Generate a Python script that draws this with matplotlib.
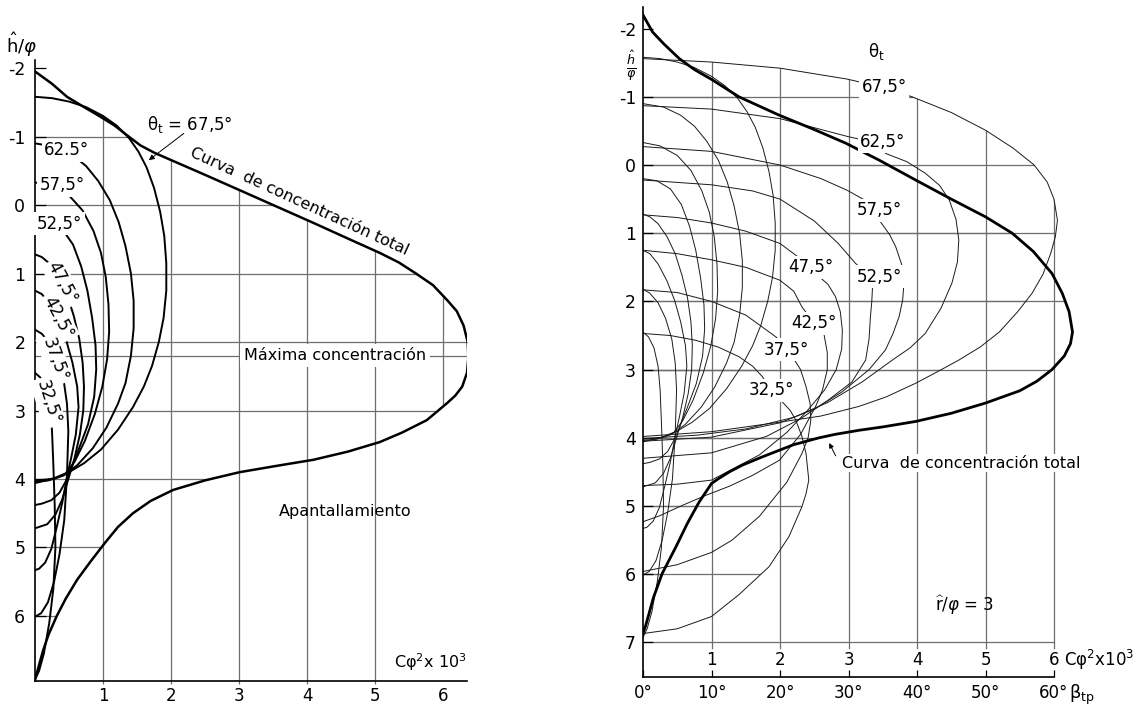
import numpy as np
import matplotlib.pyplot as plt
from matplotlib.patches import Polygon
from matplotlib.collections import LineCollection

plt.rcParams['font.family'] = ['DejaVu Sans']
plt.rcParams['mathtext.fontset'] = 'dejavusans'

# ---------- data (C x 10^3, h/phi) ----------
theta_labels = ['67,5°', '62.5°', '57,5°', '52,5°', '47,5°', '42,5°', '37,5°', '32,5°']

# total concentration curve, left chart
total_left = [(0, -1.95), (0.25, -1.77), (0.47, -1.58), (0.72, -1.43), (0.96, -1.29), (1.17, -1.16),
              (1.35, -1.02), (1.55, -0.87), (1.76, -0.76), (2.5, -0.44), (3.0, -0.22), (3.5, 0.0),
              (4.09, 0.26), (4.6, 0.49), (5.07, 0.7), (5.35, 0.84), (5.6, 1.0), (5.85, 1.17),
              (6.06, 1.39), (6.2, 1.55), (6.3, 1.76), (6.36, 2.0), (6.37, 2.22), (6.35, 2.45),
              (6.28, 2.65), (6.18, 2.78), (6.06, 2.89), (5.76, 3.14), (5.4, 3.32), (5.07, 3.46),
              (4.6, 3.6), (4.09, 3.72), (3.6, 3.8), (3.01, 3.9), (2.5, 4.02), (2.03, 4.16),
              (1.7, 4.32), (1.44, 4.5), (1.22, 4.7), (1.03, 4.93), (0.82, 5.2), (0.62, 5.47),
              (0.45, 5.75), (0.32, 6.0), (0.2, 6.27), (0.12, 6.5), (0.05, 6.75), (0, 6.93)]

# theta_t curves (C), same family on both charts
c675 = [(0, -1.58), (0.25, -1.56), (0.5, -1.51), (0.75, -1.43), (1.0, -1.3), (1.2, -1.16), (1.38, -0.98),
        (1.52, -0.78), (1.64, -0.55), (1.75, -0.25), (1.84, 0.1), (1.9, 0.45), (1.93, 0.85), (1.93, 1.25),
        (1.89, 1.65), (1.82, 2.0), (1.72, 2.35), (1.6, 2.65), (1.44, 2.95), (1.22, 3.28), (0.97, 3.57),
        (0.72, 3.77), (0.5, 3.9), (0.25, 4.0), (0, 4.06)]
c625 = [(0, -0.9), (0.3, -0.85), (0.55, -0.73), (0.75, -0.57), (0.93, -0.35), (1.1, -0.07), (1.23, 0.25),
        (1.33, 0.6), (1.41, 1.0), (1.45, 1.4), (1.45, 1.8), (1.41, 2.2), (1.33, 2.6), (1.22, 2.9),
        (1.05, 3.25), (0.85, 3.55), (0.62, 3.8), (0.42, 3.95), (0.2, 4.02), (0, 4.04)]
c575 = [(0, -0.33), (0.25, -0.28), (0.5, -0.14), (0.7, 0.08), (0.86, 0.38), (0.97, 0.7), (1.04, 1.05),
        (1.08, 1.45), (1.09, 1.85), (1.06, 2.25), (0.99, 2.65), (0.88, 3.05), (0.73, 3.45), (0.58, 3.75),
        (0.45, 3.92), (0.3, 3.99), (0.15, 4.01), (0, 4.02)]
c525 = [(0, 0.2), (0.2, 0.23), (0.4, 0.35), (0.56, 0.58), (0.68, 0.9), (0.77, 1.25), (0.84, 1.65),
        (0.89, 2.05), (0.9, 2.4), (0.87, 2.8), (0.78, 3.2), (0.66, 3.52), (0.55, 3.8), (0.46, 4.02),
        (0.36, 4.2), (0.24, 4.31), (0.1, 4.36), (0, 4.38)]
c475 = [(0, 0.72), (0.1, 0.76), (0.22, 0.86), (0.35, 1.05), (0.47, 1.3), (0.57, 1.62), (0.65, 1.95),
        (0.7, 2.3), (0.72, 2.65), (0.71, 3.0), (0.66, 3.35), (0.58, 3.7), (0.49, 4.0), (0.4, 4.3),
        (0.3, 4.52), (0.18, 4.66), (0, 4.72)]
c425 = [(0, 1.25), (0.1, 1.3), (0.22, 1.45), (0.35, 1.7), (0.46, 1.98), (0.55, 2.3), (0.62, 2.65),
        (0.64, 2.95), (0.6, 3.35), (0.53, 3.7), (0.47, 3.97), (0.4, 4.35), (0.32, 4.7), (0.24, 5.02),
        (0.15, 5.22), (0.06, 5.31), (0, 5.33)]
c375 = [(0, 1.82), (0.1, 1.88), (0.22, 2.02), (0.33, 2.25), (0.42, 2.55), (0.47, 2.9), (0.49, 3.3),
        (0.47, 3.95), (0.43, 4.6), (0.36, 5.1), (0.28, 5.5), (0.19, 5.8), (0.09, 5.96), (0, 6.01)]
c325 = [(0, 2.45), (0.08, 2.52), (0.16, 2.68), (0.22, 2.95), (0.25, 3.3), (0.27, 3.8), (0.29, 4.4),
        (0.3, 5.0), (0.27, 5.6), (0.21, 6.1), (0.13, 6.55), (0.06, 6.8), (0, 6.93)]
c_curves = [c675, c625, c575, c525, c475, c425, c375, c325]

# label spots on the left chart (C, h, rotation)
left_lbl = [(0.47, -0.8, 0), (0.4, -0.29, 0), (0.36, 0.27, 0), (0.4, 1.14, -62),
            (0.34, 1.64, -62), (0.29, 2.26, -70), (0.19, 2.88, -72)]

# total concentration curve, right chart
total_right = [(0, -2.2), (0.14, -1.95), (0.3, -1.78), (0.53, -1.56), (0.75, -1.4), (1.01, -1.25),
               (1.4, -1.0), (1.99, -0.73), (2.5, -0.52), (2.96, -0.32), (3.45, -0.07), (3.98, 0.22),
               (4.5, 0.5), (5.0, 0.76), (5.39, 1.0), (5.7, 1.27), (5.97, 1.59), (6.12, 1.88),
               (6.22, 2.15), (6.27, 2.45), (6.24, 2.62), (6.15, 2.8), (5.97, 3.0), (5.75, 3.17),
               (5.5, 3.31), (5.0, 3.49), (4.5, 3.64), (3.98, 3.76), (3.5, 3.84), (3.15, 3.89),
               (2.8, 3.95), (2.57, 4.0), (2.2, 4.1), (1.74, 4.28), (1.45, 4.4), (1.26, 4.5),
               (1.1, 4.6), (1.0, 4.67), (0.82, 4.94), (0.65, 5.25), (0.48, 5.6), (0.28, 5.99),
               (0.15, 6.35), (0.09, 6.57), (0.04, 6.75), (0, 6.87)]

# beta_tp curves, right chart
b675 = [(0, -1.56), (1.0, -1.51), (2.0, -1.42), (2.98, -1.26), (3.5, -1.14), (3.93, -1.0), (4.5, -0.77),
        (5.0, -0.51), (5.4, -0.25), (5.71, 0.0), (5.9, 0.25), (6.0, 0.5), (6.05, 0.81), (6.02, 1.05),
        (5.95, 1.3), (5.84, 1.6), (5.68, 1.88), (5.47, 2.15), (5.2, 2.45), (4.92, 2.67), (4.61, 2.86),
        (4.3, 3.03), (3.98, 3.2), (3.55, 3.4), (3.15, 3.54), (2.6, 3.68), (2.0, 3.77), (1.0, 3.91), (0, 3.98)]
b625 = [(0, -0.87), (1.0, -0.82), (2.0, -0.68), (2.98, -0.42), (3.5, -0.3), (3.54, -0.17), (3.85, -0.05),
        (4.12, 0.12), (4.33, 0.3), (4.47, 0.51), (4.57, 0.8), (4.61, 1.1), (4.59, 1.42), (4.51, 1.73),
        (4.35, 2.1), (4.12, 2.47), (3.9, 2.68), (3.64, 2.86), (3.2, 3.18), (2.7, 3.48), (2.2, 3.7),
        (1.5, 3.87), (0.8, 3.96), (0, 4.01)]
b575 = [(0, -0.27), (1.0, -0.2), (2.0, 0.0), (2.6, 0.2), (2.98, 0.37), (3.3, 0.55), (3.45, 0.81),
        (3.6, 1.02), (3.69, 1.2), (3.78, 1.47), (3.81, 1.73), (3.79, 1.98), (3.74, 2.22), (3.65, 2.47),
        (3.54, 2.71), (3.3, 3.0), (2.9, 3.33), (2.5, 3.58), (2.0, 3.78), (1.0, 3.99), (0, 4.05)]
b525 = [(0, 0.22), (1.0, 0.29), (1.6, 0.38), (2.0, 0.5), (2.5, 0.82), (2.85, 1.15), (3.1, 1.44),
        (3.3, 1.62), (3.35, 1.79), (3.34, 2.0), (3.32, 2.22), (3.3, 2.55), (3.25, 2.86), (3.05, 3.18),
        (2.7, 3.45), (2.3, 3.72), (1.8, 3.98), (1.0, 4.22), (0, 4.3)]
b475 = [(0, 0.73), (0.5, 0.77), (1.0, 0.85), (1.5, 0.97), (2.0, 1.15), (2.32, 1.39), (2.45, 1.5),
        (2.54, 1.61), (2.7, 1.75), (2.81, 1.93), (2.88, 2.15), (2.91, 2.42), (2.9, 2.7), (2.82, 3.0),
        (2.65, 3.3), (2.4, 3.6), (2.1, 3.92), (1.7, 4.25), (1.0, 4.62), (0.5, 4.68), (0, 4.7)]
b425 = [(0, 1.25), (0.5, 1.3), (1.0, 1.39), (1.5, 1.5), (2.0, 1.69), (2.2, 1.85), (2.32, 2.08),
        (2.5, 2.32), (2.64, 2.47), (2.69, 2.75), (2.69, 3.0), (2.62, 3.3), (2.52, 3.54), (2.3, 3.95),
        (1.99, 4.33), (1.6, 4.55), (1.26, 4.71), (0.9, 4.85), (0.53, 5.01), (0.25, 5.14), (0, 5.23)]
b375 = [(0, 1.83), (0.5, 1.87), (1.0, 2.0), (1.5, 2.2), (1.94, 2.52), (2.1, 2.71), (2.18, 2.81),
        (2.3, 3.0), (2.38, 3.25), (2.44, 3.5), (2.45, 3.74), (2.41, 4.0), (2.32, 4.23), (2.1, 4.65),
        (1.7, 5.15), (1.3, 5.5), (1.0, 5.68), (0.5, 5.86), (0, 5.96)]
b325 = [(0, 2.47), (0.4, 2.5), (0.77, 2.57), (1.1, 2.67), (1.4, 2.81), (1.6, 2.95), (1.74, 3.1),
        (1.87, 3.3), (2.03, 3.47), (2.15, 3.6), (2.23, 3.74), (2.32, 3.98), (2.38, 4.23), (2.42, 4.62),
        (2.38, 4.82), (2.32, 5.01), (2.13, 5.45), (1.84, 5.89), (1.4, 6.3), (1.0, 6.62), (0.5, 6.8), (0, 6.87)]
b_curves = [b675, b625, b575, b525, b475, b425, b375, b325]
right_lbl = [(3.52, -1.14), (3.5, -0.34), (3.45, 0.66), (3.45, 1.64),
             (2.45, 1.5), (2.5, 2.32), (2.1, 2.71), (1.87, 3.3)]

h_ticks_left = [-2, -1, 0, 1, 2, 3, 4, 5, 6]
h_ticks_right = [-2, -1, 0, 1, 2, 3, 4, 5, 6, 7]
c_ticks = [1, 2, 3, 4, 5, 6]
beta_ticks = ['0°', '10°', '20°', '30°', '40°', '50°', '60°']

GRID = '#6e6e6e'


def xy(pts):
    a = np.array(pts)
    return a[:, 0], a[:, 1]


def clip_poly(ax, pts):
    return Polygon(pts, closed=True, transform=ax.transData)


def white(pad=0.6):
    return dict(boxstyle='square,pad=%s' % pad, fc='white', ec='none')


fig = plt.figure(figsize=(11.48, 7.08), dpi=100)

# ================= left chart =================
ax = fig.add_axes([35 / 1148, 1 - 681 / 708, 432 / 1148, 621 / 708])
ax.set_xlim(0, 6.35)
ax.set_ylim(6.949, -2.117)
for s in ['top', 'right']:
    ax.spines[s].set_visible(False)
for s in ['left', 'bottom']:
    ax.spines[s].set_linewidth(1.2)

env = total_left + [(-0.5, 6.93), (-0.5, -1.95)]
hl = LineCollection([[(0, h), (7, h)] for h in [-1, 0, 1, 2, 3, 4, 5, 6]], colors=GRID, lw=0.9, zorder=1)
hl.set_clip_path(clip_poly(ax, env))
ax.add_collection(hl)

imax = int(np.argmax([p[0] for p in total_left]))
vpoly = total_left[:imax + 1] + [(6.35, 2.45), (6.28, 2.65), (6.06, 2.89), (5.95, 2.95),
                                  (5.95, 7.5), (-0.5, 7.5), (-0.5, -1.95)]
vl = LineCollection([[(c, -2.5), (c, 7.0)] for c in c_ticks[:-1]], colors=GRID, lw=0.9, zorder=1)
vl.set_clip_path(clip_poly(ax, vpoly))
ax.add_collection(vl)
v6 = LineCollection([[(6, -2.5), (6, 7.0)]], colors=GRID, lw=0.9, zorder=1)
v6.set_clip_path(clip_poly(ax, env))
ax.add_collection(v6)
ax.plot([0, 6.35], [2.2, 2.2], color=GRID, lw=0.9, zorder=1)

for cc in c_curves:
    ax.plot(*xy(cc), color='black', lw=1.4, solid_joinstyle='round', zorder=3)
ax.plot(*xy(total_left), color='black', lw=1.8, solid_joinstyle='round', zorder=4)

for (c, h, rot), lab in zip(left_lbl, theta_labels[1:]):
    ax.text(c, h, lab, fontsize=12, rotation=rot, ha='center', va='center',
            bbox=white(0.15), zorder=5)

ax.text(2.28, -1.17, 'θ$_\\mathrm{t}$ = 67,5°', fontsize=12, ha='center', va='center', zorder=5)
ax.annotate('', xy=(1.64, -0.63), xytext=(2.22, -1.07),
            arrowprops=dict(arrowstyle='-|>', lw=0.7, color='black', mutation_scale=8), zorder=5)
ax.text(3.88, -0.05, 'Curva  de concentración total', fontsize=11.5, rotation=-24.6,
        ha='center', va='center', rotation_mode='anchor', zorder=5)
ax.text(4.41, 2.2, 'Máxima concentración', fontsize=11.5, ha='center', va='center',
        bbox=white(0.25), zorder=5)
ax.text(4.56, 4.48, 'Apantallamiento', fontsize=11.5, ha='center', va='center', zorder=5)
ax.text(6.35, 6.67, 'Cφ$^2$x 10$^3$', fontsize=11.5, ha='right', va='center', zorder=5)

ax.set_yticks(h_ticks_left)
ax.set_yticklabels([str(h) for h in h_ticks_left])
ax.set_xticks(c_ticks)
ax.set_xticklabels([str(c) for c in c_ticks])
ax.tick_params(axis='y', direction='in', length=8, width=0.9, pad=7, labelsize=12.5)
ax.tick_params(axis='x', length=0, pad=4, labelsize=12)
fig.text(22 / 1148, 1 - 45 / 708, '$\\hat{\\mathrm{h}}/\\varphi$', fontsize=13, ha='center', va='center')

# ================= right chart =================
ax2 = fig.add_axes([643 / 1148, 1 - 677 / 708, 435 / 1148, 670 / 708])
ax2.set_xlim(0, 6.35)
ax2.set_ylim(7.507, -2.317)
for s in ['top', 'right']:
    ax2.spines[s].set_visible(False)
for s in ['left', 'bottom']:
    ax2.spines[s].set_linewidth(1.2)
ax2.spines['bottom'].set_bounds(0, 6)

hsegs = [[(0, h), (7, h)] for h in [-1, 0, 1, 2, 3, 4, 5, 6]]
for loop in [b675, total_right, b325]:
    lc = LineCollection(hsegs, colors=GRID, lw=0.9, zorder=1)
    lc.set_clip_path(clip_poly(ax2, loop + [(-0.5, loop[-1][1]), (-0.5, loop[0][1])]))
    ax2.add_collection(lc)
ax2.plot([0, 6], [7, 7], color=GRID, lw=0.9, zorder=1)
jmax = int(np.argmax([p[0] for p in b675]))
vpoly2 = b675[:jmax + 1] + [(6.1, 7.1), (-0.5, 7.1), (-0.5, -1.56)]
vl2 = LineCollection([[(c, -2.5), (c, 7.5)] for c in c_ticks], colors=GRID, lw=0.9, zorder=1)
vl2.set_clip_path(clip_poly(ax2, vpoly2))
ax2.add_collection(vl2)

for cc in c_curves:
    ax2.plot(*xy(cc), color='#1a1a1a', lw=0.7, zorder=2)
for bc in b_curves:
    ax2.plot(*xy(bc), color='#1a1a1a', lw=0.7, zorder=2)
ax2.plot(*xy(total_right), color='black', lw=2.0, solid_joinstyle='round', zorder=4)

for (c, h), lab in zip(right_lbl, theta_labels):
    ax2.text(c, h, lab.replace('.', ','), fontsize=12, ha='center', va='center',
             bbox=white(0.15), zorder=5)
ax2.text(3.4, -1.66, 'θ$_\\mathrm{t}$', fontsize=12, ha='center', va='center')
ax2.text(-0.18, -1.45, '$\\frac{\\hat{h}}{\\varphi}$', fontsize=13, ha='center', va='center', clip_on=False)
ax2.text(2.9, 4.37, 'Curva  de concentración total', fontsize=11.5, ha='left', va='center',
         bbox=white(0.1), zorder=5)
ax2.annotate('', xy=(2.7, 4.04), xytext=(2.83, 4.3),
             arrowprops=dict(arrowstyle='-|>', lw=0.7, color='black', mutation_scale=7), zorder=5)
ax2.text(4.69, 6.45, '$\\widehat{\\mathrm{r}}/\\varphi$ = 3', fontsize=12, ha='center', va='center', zorder=5)

for c in c_ticks:
    ax2.text(c, 7.26, str(c), fontsize=12, ha='center', va='center')
ax2.text(6.15, 7.26, 'Cφ$^2$x10$^3$', fontsize=12, ha='left', va='center', clip_on=False)
ax2.text(6.41, 7.77, 'β$_\\mathrm{tp}$', fontsize=13, ha='center', va='center', clip_on=False)

ax2.set_yticks(h_ticks_right)
ax2.set_yticklabels([str(h) for h in h_ticks_right])
ax2.set_xticks(range(len(beta_ticks)))
ax2.set_xticklabels(beta_ticks)
ax2.tick_params(axis='y', direction='in', length=7, width=0.9, pad=5, labelsize=12.5)
ax2.tick_params(axis='x', direction='in', length=5, width=0.9, pad=5, labelsize=12)

fig.savefig('out.png', dpi=100)
